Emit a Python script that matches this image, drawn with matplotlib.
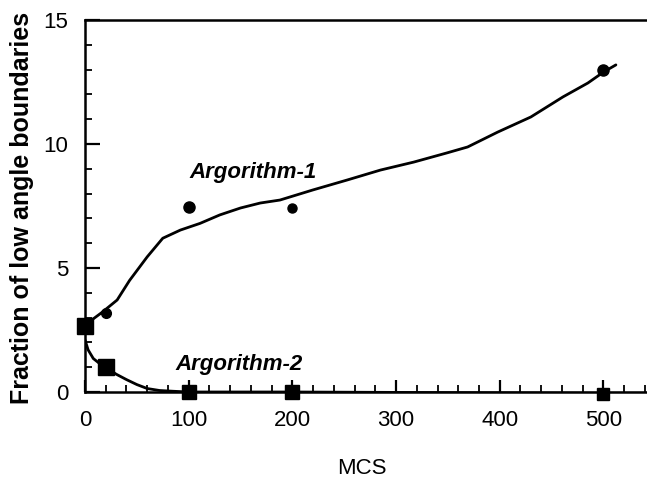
import matplotlib
matplotlib.use("Agg")
import matplotlib.pyplot as plt
from matplotlib.ticker import MultipleLocator

plt.rcParams['font.family'] = ['Liberation Sans', 'DejaVu Sans']

# Measured points
alg1_x = [20, 100, 200, 500]
alg1_y = [3.2, 7.46, 7.4, 13.0]
alg1_ms = [7, 8, 6.5, 8]
alg2_x = [0, 20, 100, 200, 500]
alg2_y = [2.65, 1.0, 0.0, 0.0, -0.1]
alg2_ms = [11, 12, 10, 10, 9]

# Smooth guide curves
curve1_x = [0, 8, 17, 31, 43, 60, 75, 92, 111, 130, 150, 169, 188, 220, 253,
            285, 317, 349, 369, 398, 430, 461, 485, 500, 512]
curve1_y = [2.75, 2.95, 3.23, 3.71, 4.5, 5.45, 6.2, 6.53, 6.8, 7.14, 7.42, 7.62, 7.74, 8.15, 8.55,
            8.95, 9.27, 9.64, 9.88, 10.48, 11.09, 11.9, 12.46, 12.9, 13.19]
curve2_x = [0, 3, 8, 14, 20, 30, 40, 50, 60, 72, 85, 100, 200, 500, 542]
curve2_y = [2.1, 1.7, 1.35, 1.15, 1.0, 0.72, 0.5, 0.3, 0.14, 0.06, 0.03, 0.0, 0.0, -0.05, -0.05]

x_ticks = [0, 100, 200, 300, 400, 500]
y_ticks = [0, 5, 10, 15]

fig = plt.figure(figsize=(6.47, 4.86), dpi=100)
ax = fig.add_axes([85/647, 94/486, 1 - 85/647, (392-20)/486])

ax.plot(curve1_x, curve1_y, color='black', lw=2.0, zorder=2, solid_capstyle='round')
ax.plot(curve2_x, curve2_y, color='black', lw=2.0, zorder=2, solid_capstyle='round')
for x, y, m in zip(alg1_x, alg1_y, alg1_ms):
    ax.plot([x], [y], 'o', color='black', ms=m, zorder=3, clip_on=False)
for x, y, m in zip(alg2_x, alg2_y, alg2_ms):
    ax.plot([x], [y], 's', color='black', ms=m, zorder=3, clip_on=False)

ax.set_xlim(0, 542)
ax.set_ylim(0, 15)
ax.set_xticks(x_ticks)
ax.set_yticks(y_ticks)
ax.xaxis.set_minor_locator(MultipleLocator(20))
ax.yaxis.set_minor_locator(MultipleLocator(1))
ax.tick_params(which='major', direction='in', length=9, width=1.6, labelsize=16, pad=13)
ax.tick_params(which='minor', direction='in', length=5, width=1.3)
ax.tick_params(axis='y', which='major', length=11, pad=12)

for s in ['left', 'bottom', 'top']:
    ax.spines[s].set_linewidth(1.8)
ax.spines['right'].set_visible(False)

ax.set_ylabel('Fraction of low angle boundaries', fontsize=18, fontweight='bold', va='center')
ax.yaxis.set_label_coords(-(85-22)/562, 0.495)
ax.set_xlabel('MCS', fontsize=16, va='center')
ax.xaxis.set_label_coords((362-85)/562, -(468-392)/372)

ax.text(101, 8.87, 'Argorithm-1', fontsize=16, fontweight='bold', fontstyle='italic', va='center', ha='left')
ax.text(87, 1.09, 'Argorithm-2', fontsize=16, fontweight='bold', fontstyle='italic', va='center', ha='left')

fig.savefig('out.png', dpi=100)
